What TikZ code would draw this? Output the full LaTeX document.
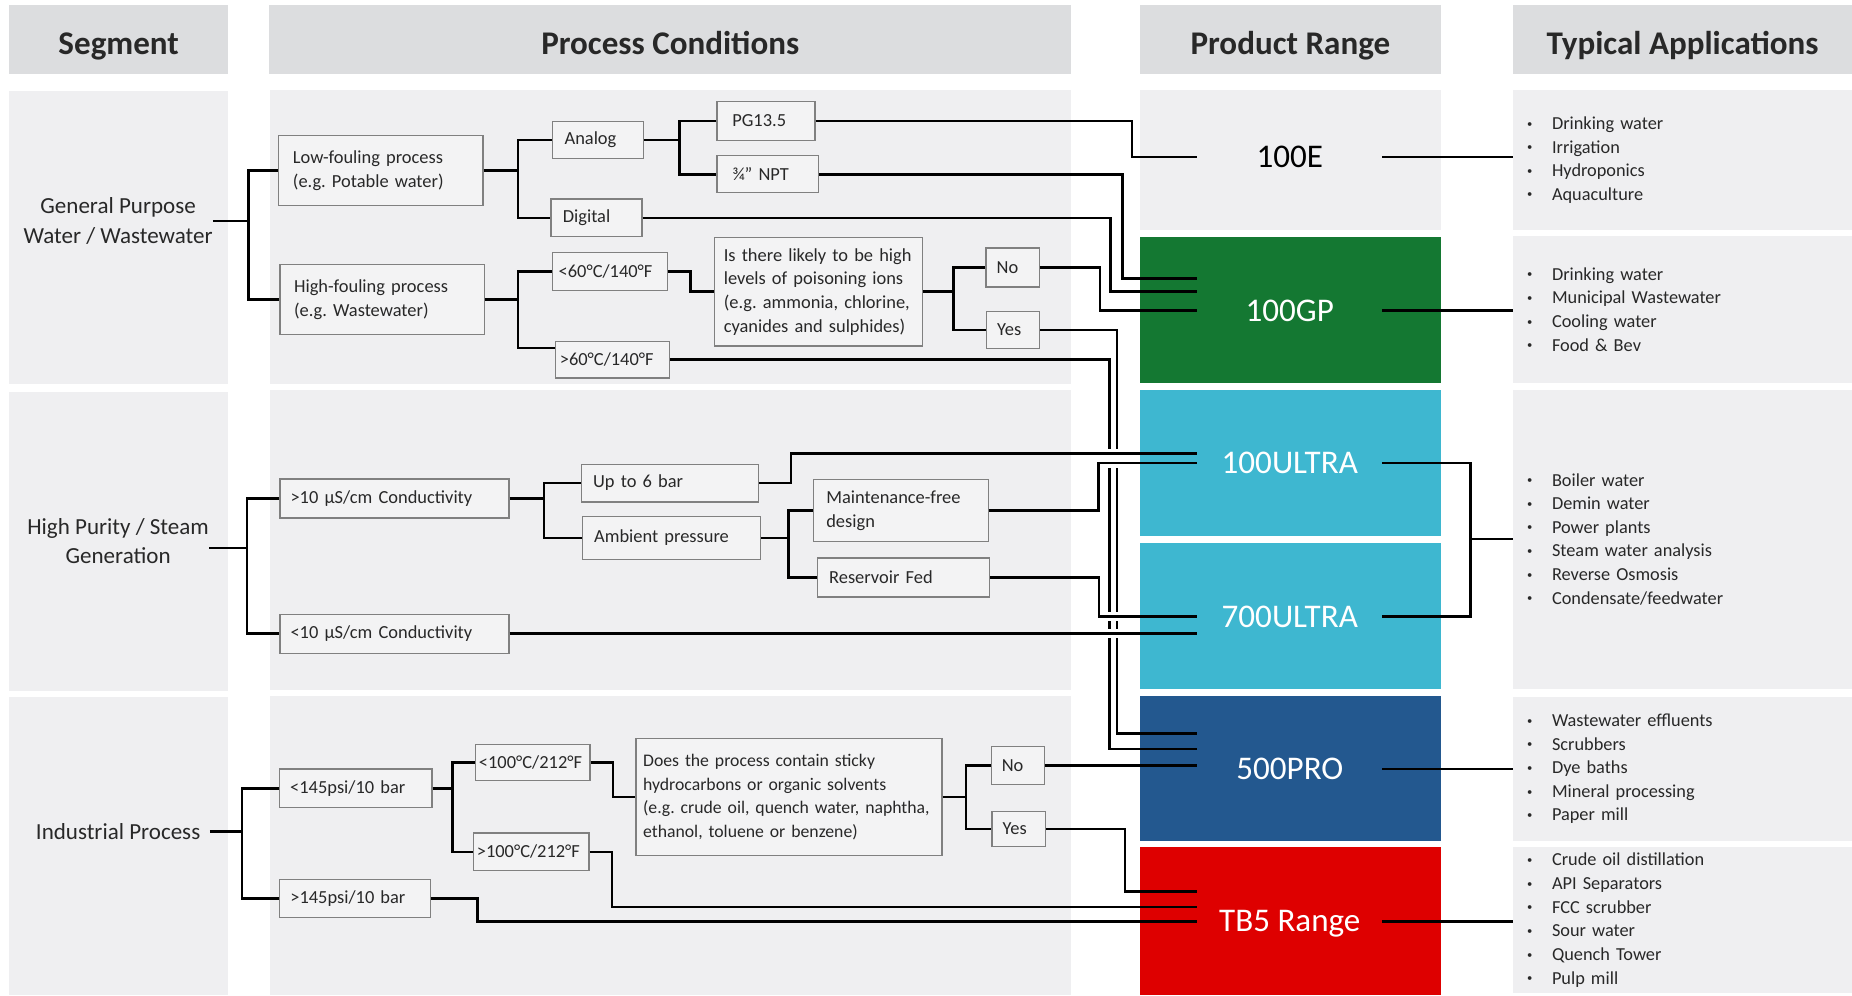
\documentclass[tikz,border=0pt]{standalone}
\usepackage{fontspec}
\setmainfont{Carlito}
\usepackage{tikz}
\usetikzlibrary{calc,positioning}
\definecolor{hdrgrey}{RGB}{220,221,223}
\definecolor{pnlgrey}{RGB}{239,239,241}
\definecolor{boxgrey}{RGB}{243,243,244}
\definecolor{boxline}{RGB}{128,128,128}
\definecolor{txtgrey}{RGB}{40,40,40}
\definecolor{gpgreen}{RGB}{20,120,50}
\definecolor{ultracyan}{RGB}{62,183,208}
\definecolor{problue}{RGB}{35,88,143}
\definecolor{tbred}{RGB}{222,0,0}
\tikzset{
  hdr/.style={fill=hdrgrey,text=txtgrey,font=\bfseries\fontsize{28}{32}\selectfont,inner sep=0pt,minimum height=59pt,text height=25pt,text depth=0pt},
  seglbl/.style={align=center,text=txtgrey,font=\fontsize{19.5}{25}\selectfont,inner sep=0pt},
  cond/.style={draw=boxline,line width=1pt,fill=boxgrey,inner xsep=10pt,inner ysep=0pt,text=txtgrey,font=\fontsize{15.6}{20}\selectfont,
    execute at begin node={\raggedright\rightskip=0pt plus 1fil minus 80pt\hyphenpenalty=10000\frenchspacing}},
  prod/.style={minimum width=156pt,inner sep=0pt,text height=18pt,text depth=0pt,font=\fontsize{28}{32}\selectfont,text=white},
  apps/.style={fill=pnlgrey,align=left,inner xsep=12pt,inner ysep=0pt,minimum width=287pt,text width=263pt,text=txtgrey,font=\fontsize{15.5}{20}\selectfont},
  link/.style={line width=2.2pt},
  gap/.style={white,line width=8pt}
}
\newcommand{\appitem}[1]{\makebox[21pt][l]{\fontsize{9}{9}\selectfont\raisebox{2pt}{\textbullet}}#1}
\begin{document}
\begin{tikzpicture}[line cap=butt,line join=miter,x=1pt,y=-1pt]
\useasboundingbox (0,0) rectangle (1568,843);
\fill[white] (0,0) rectangle (1568,843);
\fill[pnlgrey] (8,77) rectangle (193,325);
\fill[pnlgrey] (8,332) rectangle (193,585);
\fill[pnlgrey] (8,590) rectangle (193,842);
\fill[pnlgrey] (229,76) rectangle (907,325);
\fill[pnlgrey] (229,330) rectangle (907,584);
\fill[pnlgrey] (229,589) rectangle (907,842);
\fill[pnlgrey] (965,76) rectangle (1220,195);
\fill[gpgreen] (965,201) rectangle (1220,324);
\fill[ultracyan] (965,330) rectangle (1220,454);
\fill[ultracyan] (965,460) rectangle (1220,583);
\fill[problue] (965,589) rectangle (1220,712);
\fill[tbred] (965,717) rectangle (1220,842);

\node[hdr,minimum width=185pt] (hseg) at (100.5,33.5) {Segment};
\node[hdr,minimum width=679pt] (hproc) at (567.5,33.5) {Process Conditions};
\node[hdr,minimum width=255pt] (hprod) at (1092.5,33.5) {Product Range};
\node[hdr,minimum width=287pt] (happ) at (1424.5,33.5) {Typical Applications};

\node[seglbl] (gp) at (100,187) {General Purpose\\Water / Wastewater};
\node[seglbl] (hp) at (100,458) {High Purity / Steam\\Generation};
\node[seglbl] (ip) at (100,704) {Industrial Process};

\node[cond,inner xsep=12pt,text width=149pt,minimum height=59pt] (lf) at (322.5,144.5) {Low-fouling process\\(e.g. Potable water)};
\node[cond,inner xsep=12pt,text width=149pt,minimum height=59pt] (hf) at (323.5,253.5) {High-fouling process\\(e.g. Wastewater)};
\node[cond,text width=57pt,minimum height=31pt] (analog) at (506.5,118.5) {Analog};
\node[cond,text width=57pt,minimum height=32pt] (digital) at (505,184.5) {Digital};
\node[cond,inner xsep=13pt,text width=57pt,minimum height=33pt] (pg) at (648.5,102.5) {PG13.5};
\node[cond,inner xsep=13pt,text width=60pt,minimum height=31pt] (npt) at (650,147.5) {¾” NPT};
\node[cond,inner xsep=5pt,text width=87pt,minimum height=32pt] (lt60) at (516.5,230) {<60°C/140°F};
\node[cond,inner xsep=4pt,text width=89pt,minimum height=31pt] (gt60) at (518.5,304.5) {>60°C/140°F};
\node[cond,inner xsep=8pt,text width=160pt,minimum height=92pt] (poison) at (692.8,247) {Is there likely to be high\\levels of poisoning ions\\(e.g. ammonia, chlorine,\\cyanides and sulphides)};
\node[cond,inner xsep=9pt,text width=27pt,minimum height=33pt] (gpno) at (857.3,226.5) {No};
\node[cond,inner xsep=9pt,text width=27pt,minimum height=31pt] (gpyes) at (857.8,279.5) {Yes};

\node[cond,inner xsep=9pt,text width=176pt,minimum height=33pt] (gt10) at (334,422) {>10 µS/cm Conductivity};
\node[cond,inner xsep=9pt,text width=176pt,minimum height=33pt] (lt10) at (334,536.5) {<10 µS/cm Conductivity};
\node[cond,text width=130pt,minimum height=32pt] (upto6) at (567.2,409) {Up to 6 bar};
\node[cond,text width=131pt,minimum height=37pt] (ambient) at (568.5,455.5) {Ambient pressure};
\node[cond,inner xsep=11pt,text width=126pt,minimum height=53pt] (maint) at (762.6,432.3) {Maintenance-free\\design};
\node[cond,text width=126pt,minimum height=33pt] (reservoir) at (765,489) {Reservoir Fed};

\node[cond,inner xsep=9pt,text width=111pt,minimum height=33pt] (lt145) at (301.2,667.5) {<145psi/10 bar};
\node[cond,inner xsep=9pt,text width=110pt,minimum height=32pt] (gt145) at (300.8,760.8) {>145psi/10 bar};
\node[cond,inner xsep=3pt,text width=91pt,minimum height=31pt] (lt100) at (451,645.5) {<100°C/212°F};
\node[cond,inner xsep=3pt,text width=92pt,minimum height=32pt] (gt100) at (449.7,721.2) {>100°C/212°F};
\node[cond,inner xsep=6pt,text width=247pt,minimum height=99pt,font=\fontsize{15}{20}\selectfont] (sticky) at (668,674.8) {Does the process contain sticky\\hydrocarbons or organic solvents\\(e.g. crude oil, quench water, naphtha,\\ethanol, toluene or benzene)};
\node[cond,inner xsep=9pt,text width=27pt,minimum height=32pt] (ipno) at (861.7,648) {No};
\node[cond,inner xsep=9pt,text width=27pt,minimum height=30pt] (ipyes) at (862.4,701.8) {Yes};

\node[prod,text=black] (e100) at (1092,133) {100E};
\node[prod] (gp100) at (1092,263) {100GP};
\node[prod] (u100) at (1092,392) {100ULTRA};
\node[prod] (u700) at (1092,522) {700ULTRA};
\node[prod] (pro500) at (1092,651) {500PRO};
\node[prod] (tb5) at (1092,780) {TB5 Range};

\node[apps,minimum height=119pt] (a100e) at (1424.5,135.5) {\appitem{Drinking water}\\\appitem{Irrigation}\\\appitem{Hydroponics}\\\appitem{Aquaculture}};
\node[apps,minimum height=124pt] (agp) at (1424.5,262) {\appitem{Drinking water}\\\appitem{Municipal Wastewater}\\\appitem{Cooling water}\\\appitem{Food \& Bev}};
\node[apps,minimum height=253pt] (ahp) at (1424.5,456.5) {\appitem{Boiler water}\\\appitem{Demin water}\\\appitem{Power plants}\\\appitem{Steam water analysis}\\\appitem{Reverse Osmosis}\\\appitem{Condensate/feedwater}};
\node[apps,minimum height=122pt] (apro) at (1424.5,651) {\appitem{Wastewater effluents}\\\appitem{Scrubbers}\\\appitem{Dye baths}\\\appitem{Mineral processing}\\\appitem{Paper mill}};
\node[apps,minimum height=124pt] (atb5) at (1424.5,779) {\appitem{Crude oil distillation}\\\appitem{API Separators}\\\appitem{FCC scrubber}\\\appitem{Sour water}\\\appitem{Quench Tower}\\\appitem{Pulp mill}};

\draw[link] (gpyes.east) -- ++(65,0) |- ([yshift=30pt]pro500.west);
\draw[link] (gt60.east) -- ++(372,0) |- ([yshift=17pt]pro500.west);
\begin{scope}
\clip (933,300) rectangle (952,600);
\draw[gap] (upto6.east) -- ++(27,0) |- ([yshift=8pt]u100.west);
\draw[gap] (maint.east) -- ++(93,0) |- (u100.west);
\draw[gap] (reservoir.east) -- ++(92,0) |- (u700.west);
\draw[gap] (lt10.east) -- (lt10.east -| u700.west);
\end{scope}

\draw[link] (gp.east) -- ++(30,0) coordinate (gpfork) |- (lf.west);
\draw[link] (gpfork) |- (hf.west);
\draw[link] (lf.east) -- ++(29,0) coordinate (lffork) |- (analog.west);
\draw[link] (lffork) |- (digital.west);
\draw[link] (analog.east) -- ++(30,0) coordinate (anfork) |- (pg.west);
\draw[link] (anfork) |- (npt.west);
\draw[link] (hf.east) -- ++(28,0) coordinate (hffork) |- (lt60.west);
\draw[link] (hffork) |- ([yshift=10pt]gt60.west);
\draw[link] (lt60.east) -- ++(19,0) |- (poison.west);
\draw[link] (poison.east) -- ++(26,0) coordinate (pofork) |- (gpno.west);
\draw[link] (pofork) |- (gpyes.west);
\draw[link] (pg.east) -- ++(268,0) |- (e100.west);
\draw[link] (npt.east) -- ++(257,0) |- ([yshift=27pt]gp100.west);
\draw[link] (digital.east) -- ++(396,0) |- ([yshift=16pt]gp100.west);
\draw[link] (gpno.east) -- ++(51,0) |- (gp100.west);

\draw[link] ([yshift=-6pt]hp.east) -- ++(32,0) coordinate (hpfork) |- (gt10.west);
\draw[link] (hpfork) |- (lt10.west);
\draw[link] (gt10.east) -- ++(29,0) coordinate (cofork) |- (upto6.west);
\draw[link] (cofork) |- (ambient.west);
\draw[link] (ambient.east) -- ++(23,0) coordinate (amfork) |- (maint.west);
\draw[link] (amfork) |- (reservoir.west);
\draw[link] (upto6.east) -- ++(27,0) |- ([yshift=8pt]u100.west);
\draw[link] (maint.east) -- ++(93,0) |- (u100.west);
\draw[link] (reservoir.east) -- ++(92,0) |- (u700.west);
\draw[link] (lt10.east) -- (lt10.east -| u700.west);

\draw[link] ([xshift=8pt]ip.east) -- ++(27,0) coordinate (ipfork) |- (lt145.west);
\draw[link] (ipfork) |- (gt145.west);
\draw[link] (lt145.east) -- ++(17,0) coordinate (psfork) |- (lt100.west);
\draw[link] (psfork) |- (gt100.west);
\draw[link] (lt100.east) -- ++(19,0) |- (sticky.west);
\draw[link] (gt100.east) -- ++(19,0) |- ([yshift=12pt]tb5.west);
\draw[link] (gt145.east) -- ++(39,0) |- (tb5.west);
\draw[link] (sticky.east) -- ++(20,0) coordinate (stfork) |- (ipno.west);
\draw[link] (stfork) |- (ipyes.west);
\draw[link] (ipno.east) -- (ipno.east -| pro500.west);
\draw[link] (ipyes.east) -- ++(67,0) |- ([yshift=25pt]tb5.west);

\draw[link] (e100.east) -- (e100.east -| a100e.west);
\draw[link] (gp100.east) -- (gp100.east -| agp.west);
\draw[link] (u100.east) -- ++(75,0) coordinate (ulfork) |- (u700.east);
\draw[link] (ulfork |- ahp.west) -- (ahp.west);
\draw[link] (pro500.east) -- (pro500.east -| apro.west);
\draw[link] (tb5.east) -- (tb5.east -| atb5.west);
\end{tikzpicture}
\end{document}
